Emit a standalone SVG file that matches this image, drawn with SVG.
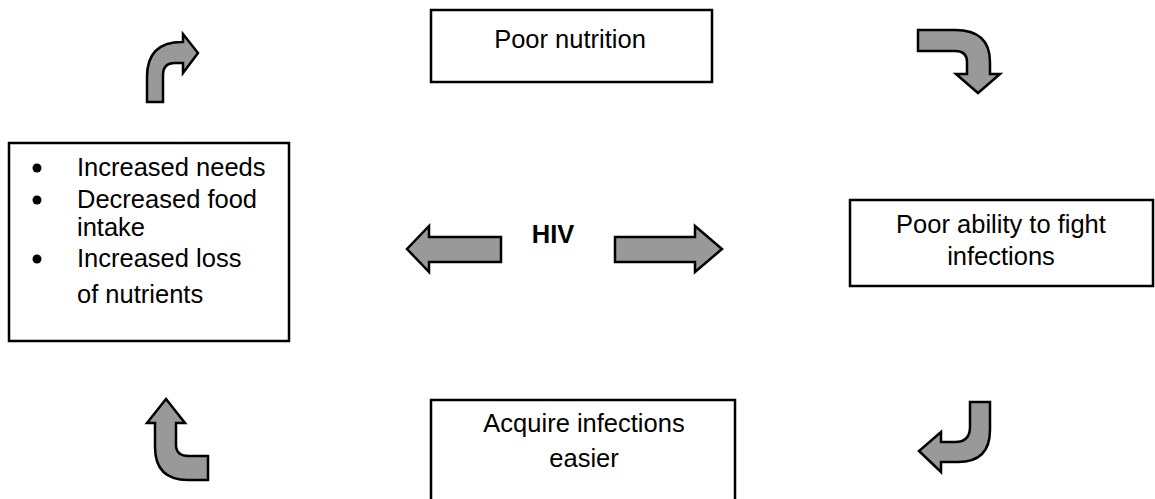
<svg xmlns="http://www.w3.org/2000/svg" width="1155" height="499" viewBox="0 0 1155 499">
<style>
.box{fill:#fff;stroke:#000;stroke-width:2.5}
.t{font-family:"Liberation Sans",Arial,sans-serif;font-size:25.5px;fill:#000}
.c{text-anchor:middle}
.arr{fill:#999;stroke:#000;stroke-width:2.5;stroke-linejoin:miter}
</style>
<rect width="1155" height="499" fill="#fff"/>
<g id="poor-nutrition">
<rect class="box" x="431" y="10" width="281" height="72"/>
<text class="t c" x="570" y="48">Poor nutrition</text>
</g>
<g id="poor-ability">
<rect class="box" x="850" y="200" width="303" height="86"/>
<text class="t c" x="1001" y="233">Poor ability to fight</text>
<text class="t c" x="1001" y="265">infections</text>
</g>
<g id="acquire">
<rect class="box" x="431" y="400" width="304" height="110"/>
<text class="t c" x="584" y="432">Acquire infections</text>
<text class="t c" x="584" y="467">easier</text>
</g>
<g id="needs">
<rect class="box" x="9" y="143" width="280" height="198"/>
<circle cx="37" cy="168" r="4.5"/>
<circle cx="37" cy="200" r="4.5"/>
<circle cx="37" cy="259" r="4.5"/>
<text class="t" x="77" y="176">Increased needs</text>
<text class="t" x="77" y="208">Decreased food</text>
<text class="t" x="77" y="236">intake</text>
<text class="t" x="77" y="267">Increased loss</text>
<text class="t" x="77" y="303">of nutrients</text>
</g>
<g id="hiv">
<text class="t c" x="553" y="243" font-weight="bold">HIV</text>
</g>
<g id="connectors">
<polygon class="arr" points="501,237 429,237 429,226 407,249 429,272 429,262 501,262"/>
<polygon class="arr" points="615,237 695,237 695,226 722,249 695,272 695,262 615,262"/>
<path class="arr" d="M147,102 L147,77 Q147,42 182,42 L183,42 L183,34 L198,53 L183,73 L183,63 L175,63 Q163,63 163,75 L163,102 Z"/>
<path class="arr" d="M918,30 L955,30 Q990,30 990,62 L990,74 L1000,74 L978,93 L956,74 L967,74 L967,62 Q967,51 955,51 L918,51 Z"/>
<path class="arr" d="M970,402 L990,402 L990,430 Q990,462 958,462 L941,462 L941,472 L919,451 L941,432 L941,442 L955,442 Q970,442 970,427 Z"/>
<path class="arr" d="M155,423 L147,423 L166,399 L185,423 L176,423 L176,445 Q176,456 189,456 L208,456 L208,480 L188,480 Q155,480 155,447 Z"/>
</g>
</svg>
